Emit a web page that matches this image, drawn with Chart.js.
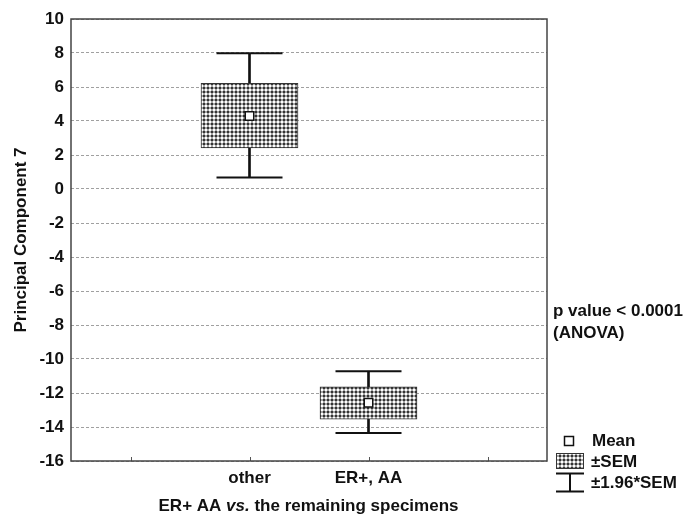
<!DOCTYPE html>
<html>
<head>
<meta charset="utf-8">
<script src="https://cdn.jsdelivr.net/npm/chart.js@4.4.1/dist/chart.umd.min.js"></script>
<style>
  html, body { margin: 0; padding: 0; background: #fff; }
</style>
</head>
<body>
<canvas id="chart" width="690" height="514"></canvas>
<script>
/* ── data ───────────────────────────── */
const categories = ['other', 'ER+, AA'];
const catPos     = [1.5, 2.5];
const means      = [4.29, -12.58];
const semLow     = [2.42, -13.54];
const semHigh    = [6.22, -11.64];
const ciLow      = [0.68, -14.35];
const ciHigh     = [7.98, -10.72];
const xTickPos   = [0.5, 1.5, 2.5, 3.5];

const FONT = "Arial, 'Liberation Sans', sans-serif";
const INK  = '#111';

/* ── crosshatch fill ────────────────── */
function makeHatch(ctx) {
  const c = document.createElement('canvas');
  c.width = 4; c.height = 4;
  const g = c.getContext('2d');
  g.fillStyle = '#333';
  g.fillRect(0, 0, 4, 4);
  g.fillStyle = '#a6a6a6';
  g.fillRect(1, 0, 2, 4);
  g.fillRect(0, 1, 4, 2);
  g.fillStyle = '#fff';
  g.fillRect(1, 1, 2, 2);
  return ctx.createPattern(c, 'repeat');
}

const canvas = document.getElementById('chart');
const ctx = canvas.getContext('2d');
const hatch = makeHatch(ctx);

/* ── decorations: frame, ticks, notes, legend ── */
const decor = {
  id: 'decor',
  afterDraw(chart) {
    const { ctx, chartArea: a, scales } = chart;
    ctx.save();

    // inward x tick marks
    ctx.strokeStyle = '#555';
    ctx.lineWidth = 1;
    xTickPos.forEach(v => {
      const x = Math.round(scales.x.getPixelForValue(v)) + 0.5;
      ctx.beginPath();
      ctx.moveTo(x, a.bottom);
      ctx.lineTo(x, a.bottom - 4);
      ctx.stroke();
    });

    // frame
    ctx.strokeStyle = '#444';
    ctx.lineWidth = 1.5;
    ctx.strokeRect(a.left, a.top, a.right - a.left, a.bottom - a.top);

    ctx.fillStyle = INK;
    ctx.textBaseline = 'middle';
    ctx.textAlign = 'left';

    // x axis title with italic "vs."
    const parts = [
      ['ER+ AA ', 'bold 17px ' + FONT],
      ['vs.', 'italic bold 17px ' + FONT],
      [' the remaining specimens', 'bold 17px ' + FONT],
    ];
    let total = 0;
    parts.forEach(p => { ctx.font = p[1]; total += ctx.measureText(p[0]).width; });
    let x = 308.5 - total / 2;
    parts.forEach(p => {
      ctx.font = p[1];
      ctx.fillText(p[0], x, 506);
      x += ctx.measureText(p[0]).width;
    });

    // p value note
    ctx.font = 'bold 17px ' + FONT;
    ctx.fillText('p value < 0.0001', 553, 311);
    ctx.fillText('(ANOVA)', 553, 333);

    // legend
    ctx.fillStyle = '#fff';
    ctx.strokeStyle = INK;
    ctx.lineWidth = 1.5;
    ctx.fillRect(564.5, 436.5, 9, 9);
    ctx.strokeRect(564.5, 436.5, 9, 9);

    ctx.fillStyle = hatch;
    ctx.fillRect(556, 453, 28, 15);
    ctx.lineWidth = 1;
    ctx.strokeStyle = '#333';
    ctx.strokeRect(556.5, 453.5, 27, 15);

    ctx.strokeStyle = INK;
    ctx.lineWidth = 2;
    ctx.beginPath();
    ctx.moveTo(556, 473.5); ctx.lineTo(584, 473.5);
    ctx.moveTo(570, 473.5); ctx.lineTo(570, 491.5);
    ctx.moveTo(556, 491.5); ctx.lineTo(584, 491.5);
    ctx.stroke();

    ctx.fillStyle = INK;
    ctx.font = 'bold 17px ' + FONT;
    ctx.fillText('Mean', 592, 441);
    ctx.fillText('\u00B1SEM', 591, 462);
    ctx.fillText('\u00B11.96*SEM', 591, 483);

    ctx.restore();
  }
};

const pts = arr => catPos.map((x, i) => ({ x, y: arr[i] }));

new Chart(ctx, {
  type: 'bar',
  data: {
    datasets: [
      {
        // whisker stems
        type: 'bar',
        data: catPos.map((x, i) => ({ x, y: [ciLow[i], ciHigh[i]] })),
        backgroundColor: INK,
        barThickness: 2,
        grouped: false,
        order: 4,
      },
      {
        // ±SEM box
        type: 'bar',
        data: catPos.map((x, i) => ({ x, y: [semLow[i], semHigh[i]] })),
        backgroundColor: hatch,
        borderColor: '#333',
        borderWidth: 1,
        borderSkipped: false,
        barThickness: 97,
        grouped: false,
        order: 3,
      },
      {
        // whisker caps
        type: 'scatter',
        data: pts(ciLow).concat(pts(ciHigh)),
        pointStyle: 'line',
        pointRadius: 33,
        borderColor: INK,
        borderWidth: 2,
        order: 2,
      },
      {
        // mean marker
        type: 'scatter',
        data: pts(means),
        pointStyle: 'rect',
        pointRadius: 6,
        backgroundColor: '#fff',
        borderColor: INK,
        borderWidth: 1.5,
        order: 1,
      },
    ]
  },
  options: {
    responsive: false,
    animation: false,
    events: [],
    layout: { autoPadding: false, padding: { top: 19, right: 143, left: 0, bottom: 0 } },
    plugins: { legend: { display: false }, tooltip: { enabled: false } },
    scales: {
      x: {
        type: 'linear',
        offset: false,
        min: 0, max: 4,
        afterBuildTicks: s => { s.ticks = xTickPos.map(v => ({ value: v })); },
        afterFit: s => { s.height = 53; },
        grid: { display: false, drawTicks: false, tickLength: 0 },
        border: { display: false },
        ticks: {
          autoSkip: false,
          maxRotation: 0,
          padding: 7,
          color: INK,
          font: { family: FONT, size: 17, weight: 'bold' },
          callback: v => {
            const i = catPos.indexOf(v);
            return i >= 0 ? categories[i] : '';
          }
        }
      },
      y: {
        min: -16, max: 10,
        afterFit: s => { s.width = 71; },
        grid: { color: '#a0a0a0', drawTicks: false, lineWidth: 1 },
        border: { display: false, dash: [3, 2] },
        ticks: {
          stepSize: 2,
          padding: 7,
          color: INK,
          font: { family: FONT, size: 17, weight: 'bold' }
        },
        title: {
          display: true,
          text: 'Principal Component 7',
          color: INK,
          font: { family: FONT, size: 17, weight: 'bold' },
          padding: { top: 11, bottom: 0 }
        }
      }
    }
  },
  plugins: [decor]
});
</script>
</body>
</html>
